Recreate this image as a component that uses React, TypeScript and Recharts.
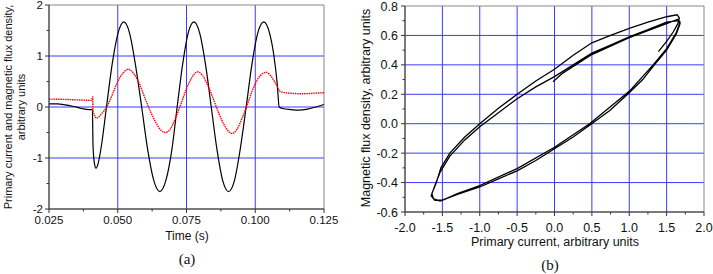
import React from 'react'
import { LineChart, Line, XAxis, YAxis, CartesianGrid, ReferenceArea } from 'recharts'

const FONT = '"Liberation Sans", Arial, sans-serif'

// (a) time traces
const currentTime = [
  0.025, 0.028, 0.031, 0.034, 0.037, 0.0395, 0.0408, 0.041, 0.0415, 0.0421, 0.0428, 0.044,
  0.0459, 0.048, 0.0501, 0.0522, 0.0543, 0.0564, 0.0587, 0.0609, 0.0631, 0.0653, 0.0675, 0.0697,
  0.0716, 0.0736, 0.0756, 0.0777, 0.0798, 0.0819, 0.084, 0.0861, 0.0882, 0.0903, 0.0924, 0.0945,
  0.0967, 0.0988, 0.1009, 0.1031, 0.1052, 0.1068, 0.108, 0.1087, 0.11, 0.113, 0.116, 0.119, 0.122, 0.125,
]
const currentValue = [
  0.06, 0.06, 0.04, 0.01, -0.03, -0.05, -0.05, -0.75, -1.1, -1.2, -1.12, -0.78,
  0.0, 0.85, 1.45, 1.67, 1.45, 0.84, 0.0, -0.84, -1.44, -1.66, -1.44, -0.83,
  0.0, 0.84, 1.45, 1.67, 1.45, 0.84, 0.0, -0.84, -1.45, -1.66, -1.45, -0.84,
  0.0, 0.84, 1.45, 1.67, 1.45, 1.0, 0.45, 0.0, -0.03, -0.05, -0.06, -0.04, 0.0, 0.05,
]

const fluxTime = [
  0.025, 0.03, 0.035, 0.0405, 0.0409, 0.041, 0.0416, 0.0423, 0.043, 0.044, 0.046, 0.048,
  0.05, 0.052, 0.0538, 0.056, 0.058, 0.06, 0.062, 0.064, 0.0658, 0.0672, 0.069, 0.071,
  0.073, 0.075, 0.077, 0.0789, 0.0808, 0.0828, 0.0848, 0.0868, 0.0888, 0.0903, 0.0915, 0.0932,
  0.0952, 0.0972, 0.0992, 0.1012, 0.1028, 0.104, 0.1058, 0.1075, 0.109, 0.11, 0.113, 0.117, 0.121, 0.125,
]
const fluxValue = [
  0.155, 0.15, 0.14, 0.13, 0.2, -0.04, -0.17, -0.22, -0.2, -0.14, 0.0, 0.24,
  0.5, 0.67, 0.74, 0.64, 0.44, 0.16, -0.1, -0.32, -0.46, -0.5, -0.44, -0.22,
  0.06, 0.36, 0.58, 0.69, 0.62, 0.42, 0.15, -0.13, -0.36, -0.48, -0.52, -0.45,
  -0.22, 0.06, 0.36, 0.57, 0.66, 0.68, 0.6, 0.45, 0.31, 0.29, 0.27, 0.26, 0.27, 0.28,
]

// (b) B-H loop, in traversal order
const loopCurrent = [
  1.39, 1.5, 1.59, 1.65, 1.67, 1.64, 1.5, 1.25, 1.0, 0.75, 0.5, 0.25, 0.0, -0.25, -0.5, -0.75,
  -1.0, -1.2, -1.4, -1.52, -1.58, -1.64, -1.62, -1.53, -1.3, -1.0, -0.75, -0.5, -0.25, 0.0, 0.25,
  0.47, 0.74, 1.0, 1.18, 1.32, 1.5, 1.63, 1.68,
  1.66, 1.5, 1.25, 1.0, 0.75, 0.5, 0.25, 0.0, -0.25, -0.5, -0.75, -1.0, -1.2, -1.4, -1.53, -1.6,
  -1.65, -1.6, -1.5, -1.3, -1.0, -0.5, 0.0, 0.47, 1.0, 1.32, 1.5, 1.63, 1.68,
  1.65, 1.5, 1.0, 0.5, 0.1, -0.02,
]
const loopFlux = [
  0.49, 0.56, 0.625, 0.68, 0.72, 0.74, 0.727, 0.69, 0.648, 0.6, 0.55, 0.465, 0.37, 0.29, 0.2, 0.105,
  0.0, -0.09, -0.2, -0.3, -0.4, -0.475, -0.51, -0.525, -0.48, -0.43, -0.375, -0.32, -0.25, -0.17, -0.09,
  -0.01, 0.09, 0.21, 0.3, 0.39, 0.5, 0.61, 0.68,
  0.7, 0.69, 0.64, 0.59, 0.535, 0.48, 0.4, 0.32, 0.25, 0.17, 0.075, -0.02, -0.11, -0.22, -0.33, -0.42,
  -0.49, -0.52, -0.52, -0.475, -0.42, -0.305, -0.16, 0.0, 0.22, 0.4, 0.51, 0.62, 0.69,
  0.71, 0.68, 0.585, 0.47, 0.34, 0.285,
]

const timeTicks = [0.025, 0.0375, 0.05, 0.0625, 0.075, 0.0875, 0.1, 0.1125, 0.125]
const ampTicks = [-2, -1.5, -1, -0.5, 0, 0.5, 1, 1.5, 2]
const timeGrid = [0.05, 0.075, 0.1]
const ampGrid = [-1, 0, 1]

const loopITicks = [-2, -1.75, -1.5, -1.25, -1, -0.75, -0.5, -0.25, 0, 0.25, 0.5, 0.75, 1, 1.25, 1.5, 1.75, 2]
const loopBTicks = [-0.6, -0.5, -0.4, -0.3, -0.2, -0.1, 0, 0.1, 0.2, 0.3, 0.4, 0.5, 0.6, 0.7, 0.8]
const loopIGrid = [-1.5, -1, -0.5, 0, 0.5, 1, 1.5]
const loopBGrid = [-0.4, -0.2, 0, 0.2, 0.4, 0.6]

const currentData = currentTime.map((t, i) => ({ t, v: currentValue[i] }))
const fluxData = fluxTime.map((t, i) => ({ t, v: fluxValue[i] }))
const loopData = loopCurrent.map((i, k) => ({ i, b: loopFlux[k] }))

const GRID = '#3b3bff'
const AXIS = '#333'

function isMajor(v: number, origin: number, step: number) {
  const r = (v - origin) / step
  return Math.abs(r - Math.round(r)) < 1e-6
}

function xTick(step: number, origin: number, digits: number, gap: number, size: number) {
  return (p: any) => {
    const v = p.payload.value
    const major = isMajor(v, origin, step)
    return (
      <g>
        <line x1={p.x} y1={p.y} x2={p.x} y2={p.y + (major ? 4 : 2.5)} stroke={AXIS} />
        {major && (
          <text x={p.x} y={p.y + gap} textAnchor="middle" fontSize={size} fill="#111" fontFamily={FONT}>
            {v.toFixed(digits)}
          </text>
        )}
      </g>
    )
  }
}

function yTick(step: number, origin: number, digits: number, gap: number, size: number) {
  return (p: any) => {
    const v = p.payload.value
    const major = isMajor(v, origin, step)
    return (
      <g>
        <line x1={p.x} y1={p.y} x2={p.x - (major ? 4 : 2.5)} y2={p.y} stroke={AXIS} />
        {major && (
          <text x={p.x - gap} y={p.y + size * 0.36} textAnchor="end" fontSize={size} fill="#111" fontFamily={FONT}>
            {v.toFixed(digits)}
          </text>
        )}
      </g>
    )
  }
}

const rotated = (cx: number, cy: number, size = 11): React.CSSProperties => ({
  position: 'absolute',
  left: cx,
  top: cy,
  transform: 'translate(-50%, -50%) rotate(-90deg)',
  whiteSpace: 'nowrap',
  fontSize: size,
  lineHeight: '13px',
  color: '#111',
})

const centered = (cx: number, cy: number, size = 11, family = FONT): React.CSSProperties => ({
  position: 'absolute',
  left: cx,
  top: cy,
  transform: 'translate(-50%, -50%)',
  whiteSpace: 'nowrap',
  fontSize: size,
  fontFamily: family,
  color: '#111',
})

export default function App() {
  return (
    <div style={{ position: 'relative', width: 713, height: 274, background: '#fff', fontFamily: FONT, overflow: 'hidden' }}>
      <style>{'body{margin:0}'}</style>

      <div style={{ position: 'absolute', left: 0, top: 0 }}>
        <LineChart width={340} height={245} margin={{ top: 5, right: 16, left: 0, bottom: 0 }}>
          <CartesianGrid stroke={GRID} horizontalValues={ampGrid} verticalValues={timeGrid} />
          <ReferenceArea x1={0.025} x2={0.125} y1={-2} y2={2} fill="none" stroke="#888" />
          <XAxis
            dataKey="t"
            type="number"
            domain={[0.025, 0.125]}
            ticks={timeTicks}
            interval={0}
            allowDataOverflow
            height={36}
            tickSize={0}
            tickMargin={0}
            axisLine={{ stroke: AXIS }}
            tick={xTick(0.025, 0.025, 3, 15, 11.5)}
          />
          <YAxis
            type="number"
            domain={[-2, 2]}
            ticks={ampTicks}
            interval={0}
            allowDataOverflow
            width={49}
            tickSize={0}
            tickMargin={0}
            axisLine={{ stroke: AXIS }}
            tick={yTick(1, 0, 0, 6, 11.5)}
          />
          <Line data={currentData} dataKey="v" type="monotone" stroke="#000" strokeWidth={1.2} dot={false} isAnimationActive={false} />
          <Line data={fluxData} dataKey="v" type="monotone" stroke="#ff0000" strokeWidth={1.4} strokeDasharray="1.5 0.8" dot={false} isAnimationActive={false} />
        </LineChart>
      </div>
      <div style={rotated(8, 107)}>Primary current and magnetic flux density,</div>
      <div style={rotated(21, 107)}>arbitrary units</div>
      <div style={centered(187, 236, 12)}>Time (s)</div>
      <div style={centered(187, 259, 15, '"Liberation Serif", "Times New Roman", serif')}>(a)</div>

      <div style={{ position: 'absolute', left: 356, top: 0 }}>
        <LineChart width={357} height={245} margin={{ top: 6, right: 9, left: 0, bottom: 0 }}>
          <CartesianGrid stroke={GRID} horizontalValues={loopBGrid} verticalValues={loopIGrid} />
          <ReferenceArea x1={-2} x2={2} y1={-0.6} y2={0.8} fill="none" stroke="#888" />
          <XAxis
            dataKey="i"
            type="number"
            domain={[-2, 2]}
            ticks={loopITicks}
            interval={0}
            allowDataOverflow
            height={33}
            tickSize={0}
            tickMargin={0}
            axisLine={{ stroke: AXIS }}
            tick={xTick(0.5, 0, 1, 19.5, 12.5)}
          />
          <YAxis
            type="number"
            domain={[-0.6, 0.8]}
            ticks={loopBTicks}
            interval={0}
            allowDataOverflow
            width={49}
            tickSize={0}
            tickMargin={0}
            axisLine={{ stroke: AXIS }}
            tick={yTick(0.2, 0, 1, 7, 12.5)}
          />
          <Line data={loopData} dataKey="b" type="linear" stroke="#000" strokeWidth={1.3} dot={false} isAnimationActive={false} />
        </LineChart>
      </div>
      <div style={rotated(366, 108, 12.5)}>Magnetic flux density, arbitrary units</div>
      <div style={centered(555, 242, 12.5)}>Primary current, arbitrary units</div>
      <div style={centered(550, 265, 15, '"Liberation Serif", "Times New Roman", serif')}>(b)</div>
    </div>
  )
}
